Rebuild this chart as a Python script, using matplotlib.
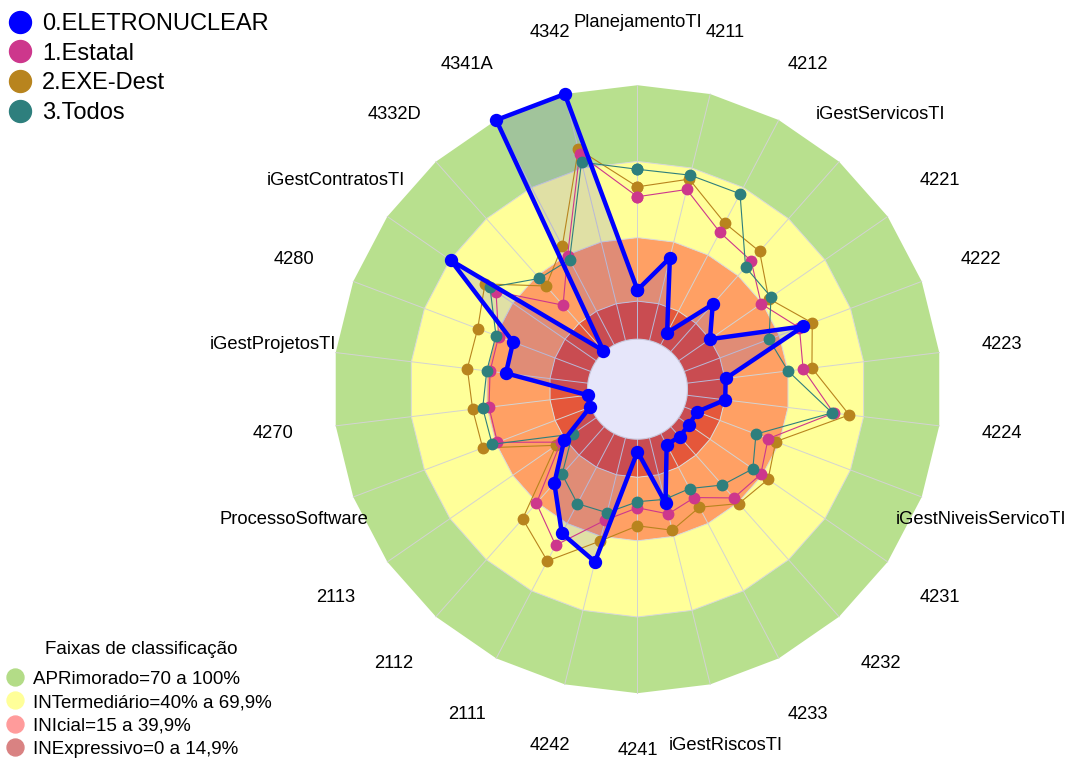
import numpy as np
import matplotlib
matplotlib.use('Agg')
import matplotlib.pyplot as plt
from matplotlib.lines import Line2D

plt.rcParams['font.family'] = ['Liberation Sans', 'DejaVu Sans']

# ---------------- data ----------------
labels = ['PlanejamentoTI', '4211', '4212', 'iGestServicosTI', '4221', '4222',
          '4223', '4224', 'iGestNiveisServicoTI', '4231', '4232', '4233',
          'iGestRiscosTI', '4241', '4242', '2111', '2112', '2113',
          'ProcessoSoftware', '4270', 'iGestProjetosTI', '4280',
          'iGestContratosTI', '4332D', '4341A', '4342']

eletronuclear = [0.194, 0.336, 0.054, 0.250, 0.150, 0.502, 0.153, 0.151, 0.054,
                 0.050, 0.053, 0.050, 0.265, 0.049, 0.503, 0.444, 0.297, 0.153,
                 0.003, 0.000, 0.325, 0.327, 0.696, 0.006, 1.000, 1.000]
estatal = [0.561, 0.613, 0.501, 0.478, 0.395, 0.485, 0.460, 0.581, 0.353,
           0.393, 0.375, 0.285, 0.309, 0.270, 0.334, 0.497, 0.403, 0.170,
           0.393, 0.392, 0.388, 0.388, 0.480, 0.245, 0.396, 0.756]
exe_dest = [0.600, 0.655, 0.542, 0.528, 0.431, 0.539, 0.495, 0.643, 0.385,
            0.428, 0.405, 0.328, 0.375, 0.341, 0.419, 0.567, 0.485, 0.192,
            0.455, 0.457, 0.478, 0.476, 0.533, 0.346, 0.440, 0.776]
todos = [0.669, 0.671, 0.672, 0.445, 0.442, 0.357, 0.400, 0.575, 0.302,
         0.355, 0.307, 0.245, 0.250, 0.246, 0.304, 0.312, 0.251, 0.114,
         0.415, 0.417, 0.401, 0.399, 0.509, 0.386, 0.379, 0.724]

series_names = ['0.ELETRONUCLEAR', '1.Estatal', '2.EXE-Dest', '3.Todos']
series_colors = ['#0000FF', '#CD378C', '#B8841E', '#2E7F7D']

band_limits = [0.0, 0.15, 0.40, 0.70, 1.0]
band_colors = ['#E5573A', '#FFA064', '#FFFF99', '#B8E08E']

legend_title = 'Faixas de classificação'
legend_bands = ['APRimorado=70 a 100%', 'INTermediário=40% a 69,9%',
                'INIcial=15 a 39,9%', 'INExpressivo=0 a 14,9%']
legend_band_colors = ['#B3DC87', '#FFFF99', '#FF9B9B', '#D98282']

# ---------------- figure ----------------
n = len(labels)
theta = np.arange(n) * 2 * np.pi / n
theta_c = np.append(theta, theta[0])
hole = 50.0 / 254.0

fig = plt.figure(figsize=(10.67, 7.58), dpi=100)
ax = fig.add_axes([0.31256, 0.08549, 0.5698, 0.8021], projection='polar')
ax.set_theta_zero_location('N')
ax.set_theta_direction(-1)
ax.set_ylim(-hole, 1.0)
ax.set_axis_off()

# classification bands (polygons)
for a, b, col in zip(band_limits[:-1], band_limits[1:], band_colors):
    th = np.concatenate([theta_c, theta_c[::-1]])
    rr = np.concatenate([np.full(n + 1, b), np.full(n + 1, a)])
    ax.fill(th, rr, color=col, lw=0, zorder=1, clip_on=False)
for b in band_limits[1:-1]:
    ax.plot(theta_c, np.full(n + 1, b), color='#D8D8D8', lw=0.7, zorder=1.2,
            clip_on=False)

# radial grid lines
for t in theta:
    ax.plot([t, t], [0, 1.0], color='#D3D3D3', lw=0.7, zorder=1.5, clip_on=False)

# blue fill
vals0 = np.append(eletronuclear, eletronuclear[0])
ax.fill(theta_c, vals0, color='#0000FF', alpha=0.12, lw=0, zorder=2, clip_on=False)

# center circle
th_f = np.linspace(0, 2 * np.pi, 240)
ax.fill(th_f, np.zeros_like(th_f), facecolor='#E6E6FA', edgecolor='#C8C8DC',
        lw=0.8, zorder=3, clip_on=False)

# series
for vals, col, z in [(estatal, series_colors[1], 4.1),
                     (exe_dest, series_colors[2], 4.0),
                     (todos, series_colors[3], 4.2)]:
    v = np.append(vals, vals[0])
    ax.plot(theta_c, v, '-o', color=col, lw=0.8, markersize=7.5, zorder=z,
            clip_on=False)
ax.plot(theta_c, vals0, '-o', color=series_colors[0], lw=3.2, markersize=8.6,
        zorder=5, clip_on=False)

# axis labels
for t, lab in zip(theta, labels):
    r_lab = 1.225 if lab == '4241' else 1.248
    ax.text(t, r_lab, lab, ha='center', va='center', fontsize=13.2, color='black')

# series legend
handles = [Line2D([], [], ls='', marker='o', markersize=15.8, color=c) for c in series_colors]
fig.legend(handles, series_names, loc='upper left', bbox_to_anchor=(0.0, 0.9947),
           frameon=False, fontsize=17, borderaxespad=0, borderpad=0.38,
           handlelength=0.93, handletextpad=0.47, labelspacing=0.325)

# band legend
fig.text(141 / 1067, 1 - 650 / 758, legend_title, ha='center', va='center',
         fontsize=13.5)
handles2 = [Line2D([], [], ls='', marker='o', markersize=12.2, color=c) for c in legend_band_colors]
fig.legend(handles2, legend_bands, loc='upper left', bbox_to_anchor=(0.0, 0.1246),
           frameon=False, fontsize=13.5, borderaxespad=0, borderpad=0.37,
           handlelength=0.9, handletextpad=0.48, labelspacing=0.335)

fig.savefig('out.png', dpi=100)
